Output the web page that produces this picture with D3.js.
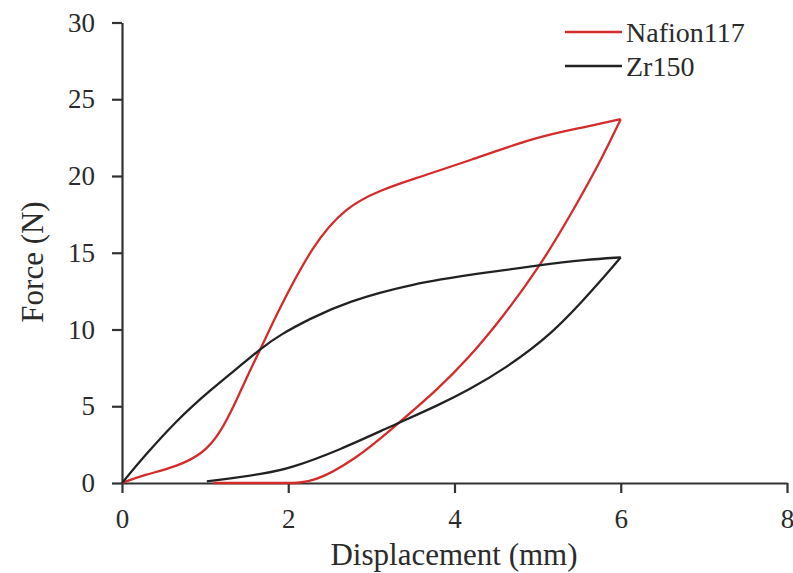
<!DOCTYPE html>
<html>
<head>
<meta charset="utf-8">
<script src="https://cdn.jsdelivr.net/npm/d3@7"></script>
<style>
body { margin: 0; background: #fff; }
text { font-family: "Liberation Serif", "Times New Roman", serif; fill: #2b2b2b; }
</style>
</head>
<body>
<div id="chart"></div>
<script>
// Nafion117 loop (loading branch and unloading branch, both in rising x)
let nafionLoadX = [0, 0.26, 0.66, 0.98, 1.18, 1.38, 1.54, 1.68, 1.86, 2.3, 2.7, 3.1, 3.5, 4.18, 4.98, 5.58, 6.0];
let nafionLoadY = [0, 0.52, 1.06, 1.93, 3.23, 5.4, 7.35, 8.87, 11.0, 15.6, 18.0, 19.06, 19.8, 21.0, 22.55, 23.2, 23.7];
let nafionUnloadX = [1.1, 2.0, 2.3, 2.82, 3.22, 3.82, 4.18, 4.58, 5.02, 5.38, 5.78, 6.0];
let nafionUnloadY = [0, 0, 0, 1.6, 3.4, 6.2, 8.2, 10.8, 14.07, 17.3, 21.2, 23.7];

// Zr150 loop
let zrLoadX = [0, 0.26, 0.66, 1.06, 1.46, 1.68, 1.9, 2.26, 2.7, 3.5, 4.3, 5.02, 5.58, 6.0];
let zrLoadY = [0, 1.7, 4.1, 6.05, 7.8, 8.8, 9.65, 10.7, 11.8, 13.0, 13.65, 14.2, 14.55, 14.7];
let zrUnloadX = [1.02, 1.74, 2.02, 2.62, 3.22, 3.82, 4.18, 4.58, 5.18, 5.7, 6.0];
let zrUnloadY = [0.1, 0.63, 0.95, 2.15, 3.66, 5.1, 6.1, 7.35, 9.7, 12.8, 14.7];

let xTicks = [0, 2, 4, 6, 8];
let yTicks = [0, 5, 10, 15, 20, 25, 30];
let seriesNames = ["Nafion117", "Zr150"];
let seriesColors = ["#d42b2b", "#222"];

let margin = {top: 22.5, right: 6, bottom: 90, left: 122};
let width = 787 - margin.left;
let height = 483 - margin.top;

let svg = d3.select("#chart").append("svg")
	.attr("width", 793)
	.attr("height", 573)
	.append("g")
	.attr("transform", "translate(" + margin.left + "," + margin.top + ")");

let x = d3.scaleLinear().domain([0, 8]).range([0, width]);
let y = d3.scaleLinear().domain([0, 30]).range([height, 0]);

let xAxis = d3.axisBottom(x).tickValues(xTicks).tickSize(10).tickPadding(16).tickSizeOuter(0);
let yAxis = d3.axisLeft(y).tickValues(yTicks).tickSize(10).tickPadding(17).tickSizeOuter(0);

svg.append("g")
	.attr("class", "x-axis axis")
	.attr("transform", "translate(0," + height + ")")
	.call(xAxis);

svg.append("g")
	.attr("class", "y-axis axis")
	.call(yAxis);

svg.selectAll(".axis path, .axis line")
	.attr("stroke", "#333")
	.attr("stroke-width", 2.2);
svg.selectAll(".axis text")
	.attr("font-size", 27)
	.attr("fill", "#2b2b2b")
	.style("font-family", "'Liberation Serif', serif");

// axis titles
svg.append("text")
	.attr("x", 454 - margin.left)
	.attr("y", 565 - margin.top)
	.attr("text-anchor", "middle")
	.attr("font-size", 31)
	.text("Displacement (mm)");

svg.append("text")
	.attr("transform", "translate(" + (43 - margin.left) + "," + (262 - margin.top) + ") rotate(-90)")
	.attr("text-anchor", "middle")
	.attr("font-size", 31)
	.text("Force (N)");

// basis curve smooths the hand-read points a little
let line = d3.line()
	.x(d => x(d[0]))
	.y(d => y(d[1]))
	.curve(d3.curveBasis);

let branches = [
	{s: 0, pts: d3.zip(nafionLoadX, nafionLoadY)},
	{s: 0, pts: d3.zip(nafionUnloadX, nafionUnloadY)},
	{s: 1, pts: d3.zip(zrLoadX, zrLoadY)},
	{s: 1, pts: d3.zip(zrUnloadX, zrUnloadY)}
];

svg.selectAll(".curve")
	.data(branches)
	.enter()
	.append("path")
	.attr("class", "curve")
	.attr("d", d => line(d.pts))
	.attr("fill", "none")
	.attr("stroke", d => seriesColors[d.s])
	.attr("stroke-width", 2.3);

// legend
let legend = svg.selectAll(".legend")
	.data(seriesNames)
	.enter()
	.append("g")
	.attr("class", "legend")
	.attr("transform", (d, i) => "translate(" + (565 - margin.left) + "," + (32 + i * 34 - margin.top) + ")");

legend.append("line")
	.attr("x1", 0)
	.attr("x2", 57)
	.attr("stroke", (d, i) => seriesColors[i])
	.attr("stroke-width", 2.5);

legend.append("text")
	.attr("x", 61)
	.attr("y", 10)
	.attr("font-size", 28)
	.text(d => d);
</script>
</body>
</html>
